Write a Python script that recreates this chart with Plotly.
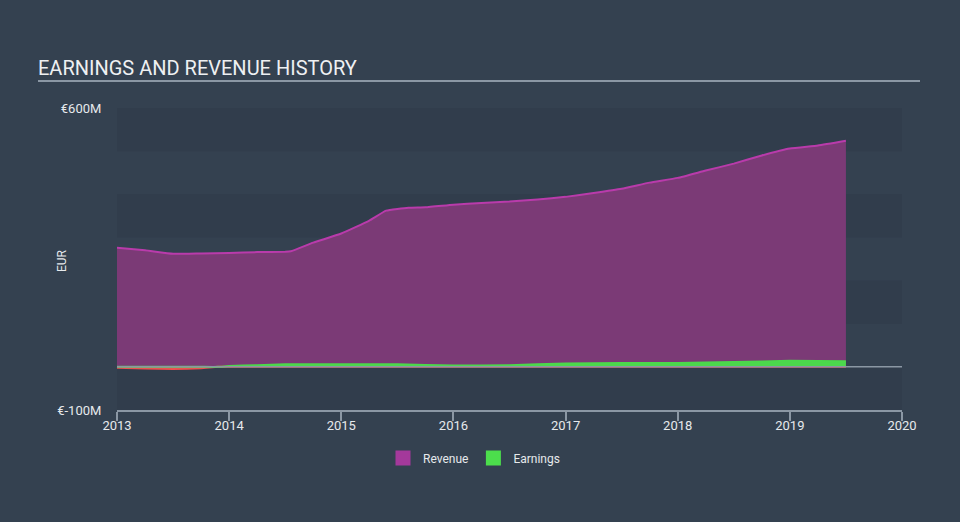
import numpy as np
import plotly.graph_objects as go

# Data (EUR millions)
rev_x = [2013.0, 2013.25, 2013.5, 2013.75, 2014.0, 2014.25, 2014.5, 2014.55, 2014.75, 2015.0,
         2015.25, 2015.4, 2015.6, 2015.75, 2016.0, 2016.25, 2016.5, 2016.75, 2017.0, 2017.25,
         2017.5, 2017.75, 2018.0, 2018.25, 2018.5, 2018.75, 2019.0, 2019.25, 2019.5]
revenue = [276, 270, 262, 263, 264, 266, 267, 268, 288, 309,
           339, 362, 369, 370, 376, 380, 383, 388, 394, 403,
           413, 427, 438, 455, 471, 490, 506, 513, 524]

earn_x = [2013.0, 2013.25, 2013.5, 2013.75, 2013.9, 2014.0, 2014.25, 2014.5, 2015.0, 2015.5,
          2016.0, 2016.5, 2017.0, 2017.5, 2018.0, 2018.5, 2019.0, 2019.5]
earnings = [-2, -4, -5, -3, 0, 2, 4, 6, 6, 6,
            3, 4, 8, 9, 9, 11, 14, 13]

year_ticks = [2013, 2014, 2015, 2016, 2017, 2018, 2019, 2020]
y_tickvals = [600, -100]
y_ticktext = ["€600M", "€-100M"]

BG = "#344150"
TXT = "#e6e9ec"
GRID = "#8b97a4"
PW, PH = 785, 302  # plot width/height in px

fig = go.Figure()

fig.add_trace(go.Scatter(
    x=rev_x, y=revenue, name="Revenue", mode="lines", showlegend=False,
    line=dict(color="#b93bab", width=2, shape="spline", smoothing=0.4),
    fill="tozeroy", fillcolor="#7b3a76",
))

e = np.array(earnings, dtype=float)
fig.add_trace(go.Scatter(
    x=earn_x, y=np.minimum(e, 0), name="Loss", mode="lines", showlegend=False,
    line=dict(color="#e8524f", width=2, shape="spline", smoothing=0.4),
    fill="tozeroy", fillcolor="#e8524f",
))
fig.add_trace(go.Scatter(
    x=earn_x, y=np.maximum(e, 0), name="Earnings", mode="lines", showlegend=False,
    line=dict(color="#4cd84c", width=2, shape="spline", smoothing=0.4),
    fill="tozeroy", fillcolor="#4cd84c",
))

# legend-only entries with square swatches
for nm, col in [("Revenue", "#a4399b"), ("Earnings", "#4cde4c")]:
    fig.add_trace(go.Scatter(x=[None], y=[None], mode="markers", name=nm,
                             marker=dict(symbol="square", size=15, color=col)))

# alternating bands
for lo in [500, 300, 100, -100]:
    fig.add_shape(type="rect", xref="x", yref="y", x0=2013, x1=2020, y0=lo, y1=lo + 100,
                  fillcolor="rgba(10,20,30,0.07)", line_width=0, layer="below")

# zero line
fig.add_shape(type="line", xref="x", yref="y", x0=2013, x1=2020, y0=0, y1=0,
              line=dict(color=GRID, width=1.5), layer="above")

# title underline
uy = 1 + (108 - 81) / PH
fig.add_shape(type="line", xref="paper", yref="paper", x0=(38 - 117) / PW, x1=(920 - 117) / PW,
              y0=uy, y1=uy, line=dict(color=GRID, width=2))

# EUR axis label
fig.add_annotation(text="EUR", xref="paper", yref="paper", x=(62 - 117) / PW, y=(410 - 261) / PH,
                   showarrow=False, textangle=-90, font=dict(size=12, color=TXT),
                   xanchor="center", yanchor="middle")

fig.update_layout(
    width=960, height=522,
    paper_bgcolor=BG, plot_bgcolor=BG,
    margin=dict(l=117, r=58, t=108, b=112, autoexpand=False),
    font=dict(family="Roboto, sans-serif", color=TXT, size=12),
    title=dict(text="EARNINGS AND REVENUE HISTORY", x=38 / 960, xanchor="left",
               y=1 - 68 / 522, yanchor="middle", font=dict(size=20, color="#eef0f2")),
    showlegend=True,
    legend=dict(orientation="h", x=(474 - 117) / PW, xanchor="center",
                y=(410 - 458) / PH, yanchor="middle", font=dict(size=12, color=TXT),
                bgcolor="rgba(0,0,0,0)"),
    xaxis=dict(range=[2013, 2020], tickvals=year_ticks, ticktext=[str(y) for y in year_ticks],
               showgrid=False, zeroline=False, showline=True, linecolor=GRID, linewidth=1.5,
               ticks="outside", ticklen=9, tickcolor=GRID, tickwidth=1.5,
               ticklabelstandoff=-6,
               tickfont=dict(size=13, color=TXT), automargin=False),
    yaxis=dict(range=[-100, 600], tickvals=y_tickvals, ticktext=y_ticktext,
               showgrid=False, zeroline=False, showline=False,
               ticks="outside", ticklen=12, tickcolor="rgba(0,0,0,0)",
               tickfont=dict(size=13, color=TXT), automargin=False),
)

fig.write_html("out.html")
